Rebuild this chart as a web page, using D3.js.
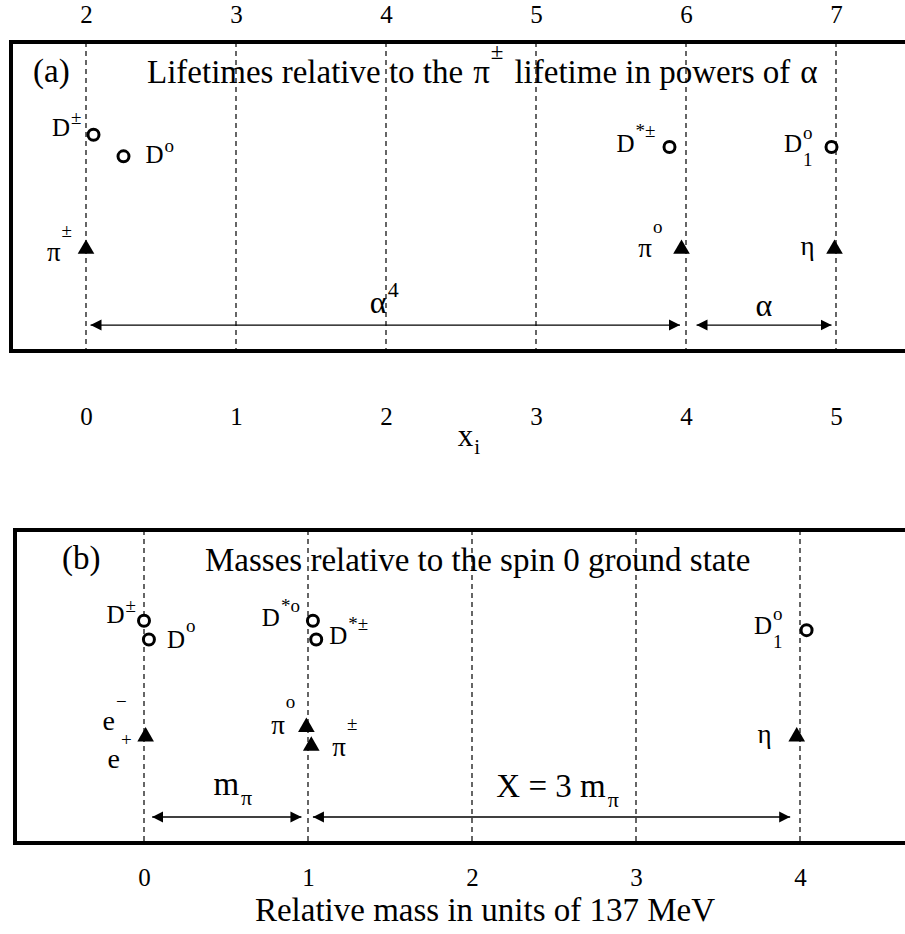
<!DOCTYPE html>
<html>
<head>
<meta charset="utf-8">
<script src="https://cdn.jsdelivr.net/npm/d3@7"></script>
<style>
  body { margin: 0; background: #fff; }
  svg text { font-family: "Liberation Serif", "Times New Roman", serif; fill: #000; }
</style>
</head>
<body>
<svg id="fig" width="905" height="934"></svg>
<script>
// ---------- (a) lifetimes relative to the pi± lifetime, in powers of alpha ----------
const lifeTicks = [0, 1, 2, 3, 4, 5];
const lifeTopLabels = ["2", "3", "4", "5", "6", "7"];
const lifeBottomLabels = ["0", "1", "2", "3", "4", "5"];

// open circles: charmed mesons
const lifeHeavyBase = ["D", "D", "D", "D"];
const lifeHeavySup = ["±", "o", "*±", "o"];
const lifeHeavySub = ["", "", "", "1"];
const lifeHeavyX = [0.05, 0.25, 3.89, 4.97];
const lifeHeavyY = [7.0, 6.3, 6.6, 6.6];

// filled triangles: light mesons
const lifeLightBase = ["π", "π", "η"];
const lifeLightSup = ["±", "o", ""];
const lifeLightX = [0, 3.97, 4.99];
const lifeLightY = [3.3, 3.3, 3.3];

// spans marked with arrows
const lifeArrowFrom = [0.03, 4.07];
const lifeArrowTo = [3.96, 4.97];
const lifeArrowBase = ["α", "α"];
const lifeArrowSup = ["4", ""];
const lifeArrowY = 0.84;

// ---------- (b) masses relative to the spin 0 ground state ----------
const massTicks = [0, 1, 2, 3, 4];
const massBottomLabels = ["0", "1", "2", "3", "4"];

const massHeavyBase = ["D", "D", "D", "D", "D"];
const massHeavySup = ["±", "o", "*o", "*±", "o"];
const massHeavySub = ["", "", "", "", "1"];
const massHeavyX = [0, 0.03, 1.03, 1.05, 4.04];
const massHeavyY = [7.1, 6.5, 7.1, 6.5, 6.8];

const massLightBase = ["e", "π", "π", "η"];
const massLightSup = ["−", "o", "±", ""];
const massLightPartnerSup = ["+", "", "", ""];   // e+ shares the e− point
const massLightX = [0.01, 0.99, 1.02, 3.98];
const massLightY = [3.4, 3.7, 3.1, 3.4];

const massArrowFrom = [0.05, 1.03];
const massArrowTo = [0.96, 3.94];
const massArrowBase = ["m", "X = 3 m"];
const massArrowSub = ["π", "π"];
const massArrowY = 0.83;

// ---------- drawing ----------
const svg = d3.select("#fig");
const W = 905;

const defs = svg.append("defs");
defs.append("marker")
  .attr("id", "head")
  .attr("viewBox", "0 0 10 10")
  .attr("refX", 10).attr("refY", 5)
  .attr("markerWidth", 11).attr("markerHeight", 13)
  .attr("markerUnits", "userSpaceOnUse")
  .attr("orient", "auto-start-reverse")
  .append("path").attr("d", "M0,0 L10,5 L0,10 Z").attr("fill", "#000");

// a run of text pieces laid out left to right; returns the group and its width
function rich(parent, parts) {
  const grp = parent.append("g");
  let x = 0, lastX = 0;
  parts.forEach(p => {
    const px = p.stack ? lastX : x + (p.gap || 0);
    const t = grp.append("text")
      .attr("x", px).attr("y", p.dy || 0)
      .style("font-size", p.size + "px")
      .text(p.text);
    const w = t.node().getComputedTextLength();
    lastX = px;
    x = Math.max(x, px + w);
  });
  return { grp, width: x };
}

function pointLabel(parent, mx, my, base, sup, sub, lay, baseSize) {
  const parts = [{ text: base, size: baseSize }];
  if (sup) parts.push({ text: sup, size: 19, dy: lay.supDy, gap: 1 });
  if (sub) parts.push({ text: sub, size: 19, dy: lay.subDy, stack: !!sup });
  const r = rich(parent, parts);
  const tx = lay.side === "left" ? mx + lay.dx - r.width : mx + lay.dx;
  r.grp.attr("transform", `translate(${tx},${my + lay.dy})`);
}

function panel(cfg) {
  const g = svg.append("g");
  const x = cfg.x, y = cfg.y;
  const [yb, yt] = y.range();

  // dashed verticals at each unit
  g.append("g").selectAll("line").data(cfg.ticks).join("line")
    .attr("x1", d => x(d)).attr("x2", d => x(d))
    .attr("y1", yt).attr("y2", yb)
    .attr("stroke", "#000").attr("stroke-width", 1.2)
    .attr("stroke-dasharray", "5,4");

  // frame open on the right
  g.append("path")
    .attr("d", `M${W + 5},${yt} H${cfg.left} V${yb} H${W + 5}`)
    .attr("fill", "none").attr("stroke", "#000").attr("stroke-width", 4);

  // axes (labels only)
  const bottom = g.append("g").attr("transform", `translate(0,${yb})`)
    .call(d3.axisBottom(x).tickValues(cfg.ticks)
      .tickFormat((d, i) => cfg.bottomLabels[i]).tickSize(0).tickPadding(cfg.bottomPad));
  bottom.select(".domain").remove();
  bottom.attr("font-family", null).attr("font-size", null);
  bottom.selectAll("text").style("font-size", "25px");
  if (cfg.topLabels) {
    const top = g.append("g").attr("transform", `translate(0,${yt})`)
      .call(d3.axisTop(x).tickValues(cfg.ticks)
        .tickFormat((d, i) => cfg.topLabels[i]).tickSize(0).tickPadding(19));
    top.select(".domain").remove();
    top.attr("font-family", null).attr("font-size", null);
    top.selectAll("text").style("font-size", "25px");
  }

  // arrows with span labels
  const ay = y(cfg.arrowY);
  cfg.arrowFrom.forEach((f, i) => {
    const x1 = x(f), x2 = x(cfg.arrowTo[i]);
    g.append("line")
      .attr("x1", x1).attr("x2", x2).attr("y1", ay).attr("y2", ay)
      .attr("stroke", "#000").attr("stroke-width", 1.3)
      .attr("marker-start", "url(#head)").attr("marker-end", "url(#head)");
    const parts = [{ text: cfg.arrowBase[i], size: cfg.arrowSize }];
    if (cfg.arrowSup && cfg.arrowSup[i]) parts.push({ text: cfg.arrowSup[i], size: 22, dy: -16, gap: 1 });
    if (cfg.arrowSub && cfg.arrowSub[i]) parts.push({ text: cfg.arrowSub[i], size: 22, dy: 10, gap: 2 });
    const r = rich(g, parts);
    r.grp.attr("transform", `translate(${(x1 + x2) / 2 - r.width / 2 + cfg.arrowShift[i]},${ay + cfg.arrowLift[i]})`);
  });

  // open circles
  cfg.heavyX.forEach((v, i) => {
    const cx = x(v), cy = y(cfg.heavyY[i]);
    g.append("circle").attr("cx", cx).attr("cy", cy).attr("r", 5.5)
      .attr("fill", "#fff").attr("stroke", "#000").attr("stroke-width", 3);
    pointLabel(g, cx, cy, cfg.heavyBase[i], cfg.heavySup[i], cfg.heavySub[i], cfg.heavyLayout[i], 25);
  });

  // filled triangles
  const tri = d3.symbol(d3.symbolTriangle, 120);
  cfg.lightX.forEach((v, i) => {
    const cx = x(v), cy = y(cfg.lightY[i]);
    g.append("path").attr("d", tri()).attr("transform", `translate(${cx},${cy})`)
      .attr("fill", "#000");
    const lay = cfg.lightLayout[i];
    pointLabel(g, cx, cy, cfg.lightBase[i], cfg.lightSup[i], "", lay, lay.size || 27);
    if (cfg.partnerSup && cfg.partnerSup[i]) {
      pointLabel(g, cx, cy, cfg.lightBase[i], cfg.partnerSup[i], "", cfg.partnerLayout, lay.size || 27);
    }
  });
  return g;
}

// panel (a)
const xA = d3.scaleLinear([0, 5], [86, 836]);
const yA = d3.scaleLinear([0, 10], [351, 42]);
panel({
  x: xA, y: yA, left: 11, ticks: lifeTicks,
  topLabels: lifeTopLabels, bottomLabels: lifeBottomLabels, bottomPad: 56,
  heavyBase: lifeHeavyBase, heavySup: lifeHeavySup, heavySub: lifeHeavySub,
  heavyX: lifeHeavyX, heavyY: lifeHeavyY,
  heavyLayout: [
    { side: "left", dx: -12, dy: 1, supDy: -12 },
    { side: "right", dx: 22, dy: 7, supDy: -11 },
    { side: "left", dx: -14, dy: 5, supDy: -15 },
    { side: "left", dx: -19, dy: 5, supDy: -13, subDy: 14 }
  ],
  lightBase: lifeLightBase, lightSup: lifeLightSup, lightX: lifeLightX, lightY: lifeLightY,
  lightLayout: [
    { side: "left", dx: -14, dy: 12, supDy: -24 },
    { side: "left", dx: -19, dy: 8, supDy: -24 },
    { side: "left", dx: -20, dy: 6 }
  ],
  arrowFrom: lifeArrowFrom, arrowTo: lifeArrowTo, arrowY: lifeArrowY,
  arrowBase: lifeArrowBase, arrowSup: lifeArrowSup, arrowSize: 32,
  arrowShift: [-1, 0], arrowLift: [-12, -9]
});

// panel (b)
const xB = d3.scaleLinear([0, 4], [144, 800]);
const yB = d3.scaleLinear([0, 10], [843, 530]);
panel({
  x: xB, y: yB, left: 15, ticks: massTicks,
  bottomLabels: massBottomLabels, bottomPad: 25,
  heavyBase: massHeavyBase, heavySup: massHeavySup, heavySub: massHeavySub,
  heavyX: massHeavyX, heavyY: massHeavyY,
  heavyLayout: [
    { side: "left", dx: -8, dy: 2, supDy: -11 },
    { side: "right", dx: 18, dy: 8, supDy: -16 },
    { side: "left", dx: -13, dy: 5, supDy: -14 },
    { side: "right", dx: 13, dy: 4, supDy: -14 },
    { side: "left", dx: -24, dy: 4, supDy: -14, subDy: 14 }
  ],
  lightBase: massLightBase, lightSup: massLightSup, lightX: massLightX, lightY: massLightY,
  partnerSup: massLightPartnerSup,
  partnerLayout: { side: "left", dx: -14, dy: 31, supDy: -22 },
  lightLayout: [
    { side: "left", dx: -19, dy: -7, supDy: -22, size: 28 },
    { side: "left", dx: -11, dy: 7, supDy: -26 },
    { side: "right", dx: 21, dy: 10, supDy: -26 },
    { side: "left", dx: -25, dy: 6 }
  ],
  arrowFrom: massArrowFrom, arrowTo: massArrowTo, arrowY: massArrowY,
  arrowBase: massArrowBase, arrowSub: massArrowSub, arrowSize: 33,
  arrowShift: [6, 6], arrowLift: [-22, -20]
});

// titles and axis captions
const tA = rich(svg, [
  { text: "Lifetimes relative to the", size: 33 },
  { text: "π", size: 33, gap: 10 },
  { text: "±", size: 23, dy: -24, gap: 1 },
  { text: "lifetime in powers of", size: 33, gap: 11 },
  { text: "α", size: 33, gap: 10 }
]);
tA.grp.attr("transform", "translate(147,83)");
svg.append("text").attr("x", 33).attr("y", 82).style("font-size", "33px").text("(a)");

svg.append("text").attr("x", 205).attr("y", 571).style("font-size", "33px")
  .text("Masses relative to the spin 0 ground state");
svg.append("text").attr("x", 62).attr("y", 569).style("font-size", "33px").text("(b)");

const xi = rich(svg, [
  { text: "x", size: 31 },
  { text: "i", size: 21, dy: 8, gap: 1 }
]);
xi.grp.attr("transform", `translate(${xA(2.5) - xi.width / 2 + 8},446)`);

svg.append("text").attr("x", 485).attr("y", 921).attr("text-anchor", "middle")
  .style("font-size", "33px").text("Relative mass in units of 137 MeV");
</script>
</body>
</html>
